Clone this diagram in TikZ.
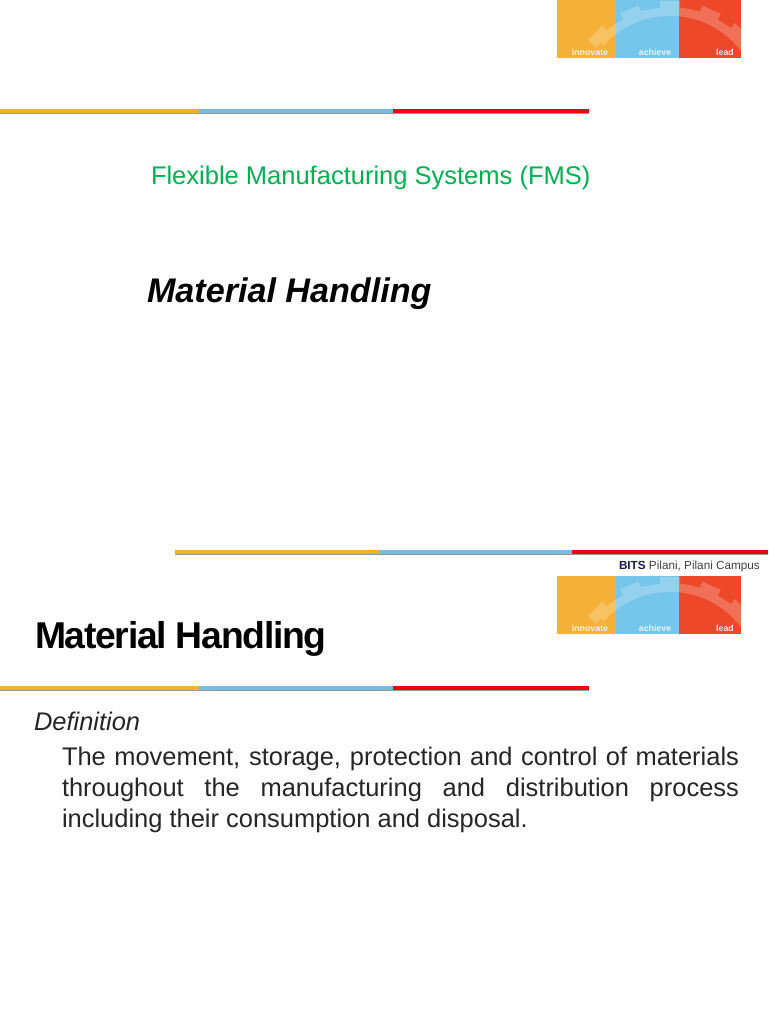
\documentclass[tikz,border=0pt]{standalone}
\usepackage{fontspec}
\setmainfont{Liberation Sans}
\definecolor{logoOrange}{RGB}{245,177,56}
\definecolor{logoBlue}{RGB}{118,197,234}
\definecolor{logoRed}{RGB}{237,72,42}
\definecolor{ruleOrange}{RGB}{247,176,40}
\definecolor{ruleBlue}{RGB}{120,187,222}
\definecolor{ruleRed}{RGB}{232,8,20}
\definecolor{fmsGreen}{RGB}{0,176,80}
\definecolor{bitsNavy}{RGB}{25,25,80}
\tikzset{
  x=0.75pt,y=-0.75pt,
  txt/.style={inner sep=0pt,outer sep=0pt,anchor=base west},
  logotxt/.style={inner sep=0pt,anchor=base,text=white,opacity=.85,font=\fontsize{6.6}{8}\selectfont\bfseries},
}
\newcommand{\logoblock}[1]{%
  \begin{scope}[yshift=-0.75pt*#1]
    \fill[logoOrange] (557,0) rectangle (616,58);
    \fill[logoBlue] (616,0) rectangle (679,58);
    \fill[logoRed] (679,0) rectangle (741,58);
    \begin{scope}
      \clip (557,0) rectangle (741,58);
      \begin{scope}[transparency group,opacity=.22]
        \draw[white,line width=6.5pt] plot[domain=36:138,samples=60] ({670+93.5*cos(\x)},{105-93.5*sin(\x)});
        \foreach \a in {46,66.5,90,113,136}{
          \fill[white,rotate around={\a-90:(670,105)}] (660,1) rectangle (680,12);
        }
      \end{scope}
    \end{scope}
  \end{scope}}
\newcommand{\tricolor}[6]{%
  \fill[black!40] (#1,#5+1.5) rectangle (#4,#6+1);
  \fill[ruleOrange] (#1,#5) rectangle (#2,#6);
  \fill[ruleBlue] (#2,#5) rectangle (#3,#6);
  \fill[ruleRed] (#3,#5) rectangle (#4,#6);}
\begin{document}
\begin{tikzpicture}
\useasboundingbox (0,0) rectangle (768,1024);
\fill[white] (0,0) rectangle (768,1024);
\logoblock{0}
\node[logotxt] (a1) at (590,55.5) {innovate};
\node[logotxt] (a2) at (655,55.5) {achieve};
\node[logotxt] (a3) at (725,55.5) {lead};
\logoblock{576}
\node[logotxt] (b1) at (590,631.5) {innovate};
\node[logotxt] (b2) at (655,631.5) {achieve};
\node[logotxt] (b3) at (725,631.5) {lead};
\tricolor{0}{199}{393}{589}{109}{113}
\tricolor{175}{379}{572}{768}{550}{554}
\tricolor{0}{199}{393}{589}{685.5}{689.5}
\node[txt,text=fmsGreen,font=\fontsize{19.13}{22}\selectfont] (fms) at (151,184) {Flexible Manufacturing Systems (FMS)};
\node[txt,font=\fontsize{25.6}{28}\selectfont\bfseries\itshape] (mh) at (147,302) {Material Handling};
\node[txt,font=\fontsize{8.8}{10}\selectfont] (bits) at (619,569) {\textcolor{bitsNavy}{\textbf{BITS}} \textcolor{black!75}{Pilani, Pilani Campus}};
\node[txt,font=\fontsize{28}{32}\selectfont\bfseries\addfontfeature{LetterSpace=-3.5}] (title) at (35,648) {Material Handling};
\node[txt,font=\fontsize{19.1}{22}\selectfont\itshape,text=black!85] (def) at (34,730) {Definition};
\node[inner sep=0pt,outer sep=0pt,anchor=north west,text width=507.75pt,align=justify,text=black!85,
  font=\fontsize{19.1}{23.25}\selectfont] (body) at (62,747)
  {The movement, storage, protection and control of materials\linebreak throughout the manufacturing and distribution process\linebreak including their consumption and disposal.};
\end{tikzpicture}
\end{document}
